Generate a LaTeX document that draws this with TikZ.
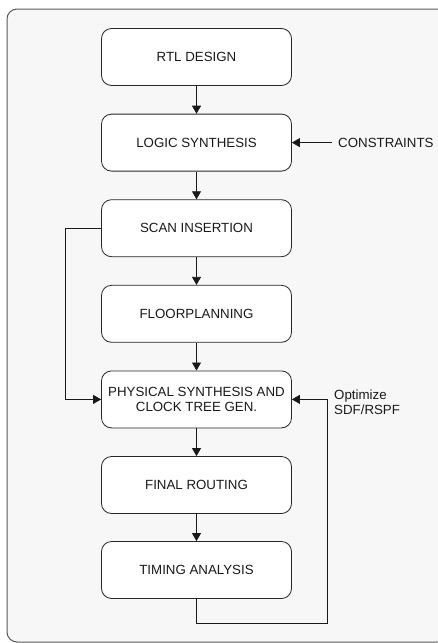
\documentclass[tikz,border=0pt]{standalone}
\usepackage{fontspec}
\setmainfont{Liberation Sans}
\usetikzlibrary{arrows.meta}

\begin{document}
\begin{tikzpicture}[x=1pt,y=-1pt,
  txt/.style={font=\fontsize{13.3}{14.5}\selectfont, text=black!90},
  stage/.style={txt, draw=black!85, fill=white, rounded corners=10pt,
    minimum width=190pt, minimum height=57pt, align=center, line width=0.8pt},
  flow/.style={draw=black!90, line width=0.8pt, -{Triangle[length=8pt,width=9pt]}},
  lbl/.style={txt, inner sep=0pt, align=left}]
\useasboundingbox (0,0) rectangle (438,643);

% outer panel, running past the right and bottom edges
\begin{scope}
  \clip (0,0) rectangle (438,643);
  \draw[draw=black!65, fill=black!3, rounded corners=10pt, line width=1pt]
    (7,9) rectangle (447,642);
\end{scope}

% design flow stages
\node[stage] (rtl)    at (196.5,57.0)  {RTL DESIGN};
\node[stage] (logic)  at (196.5,142.6) {LOGIC SYNTHESIS};
\node[stage] (scan)   at (196.5,228.2) {SCAN INSERTION};
\node[stage] (floor)  at (196.5,313.8) {FLOORPLANNING};
\node[stage] (phys)   at (196.5,399.4) {PHYSICAL SYNTHESIS AND\\CLOCK TREE GEN.};
\node[stage] (route)  at (196.5,485.0) {FINAL ROUTING};
\node[stage] (timing) at (196.5,570.0) {TIMING ANALYSIS};

% side inputs and labels
\node[lbl, anchor=west] (cons) at (338,142.6) {CONSTRAINTS};
\node[lbl, anchor=north west] (opt) at (334,390) {Optimize\\SDF/RSPF};
\coordinate (scanleft) at (65,228.2);
\coordinate (loopcorner) at (327,623);

% main flow
\draw[flow] (rtl) -- (logic);
\draw[flow] (logic) -- (scan);
\draw[flow] (scan) -- (floor);
\draw[flow] (floor) -- (phys);
\draw[flow] (phys) -- (route);
\draw[flow] (route) -- (timing);

% constraints input
\draw[flow] ([xshift=-6pt]cons.west) -- (logic.east);

% scan insertion bypass
\draw[flow] (scan.west) -- (scanleft) |- (phys.west);

% timing optimisation loop
\draw[flow] (timing.south) |- (loopcorner) |- (phys.east);
\end{tikzpicture}
\end{document}
